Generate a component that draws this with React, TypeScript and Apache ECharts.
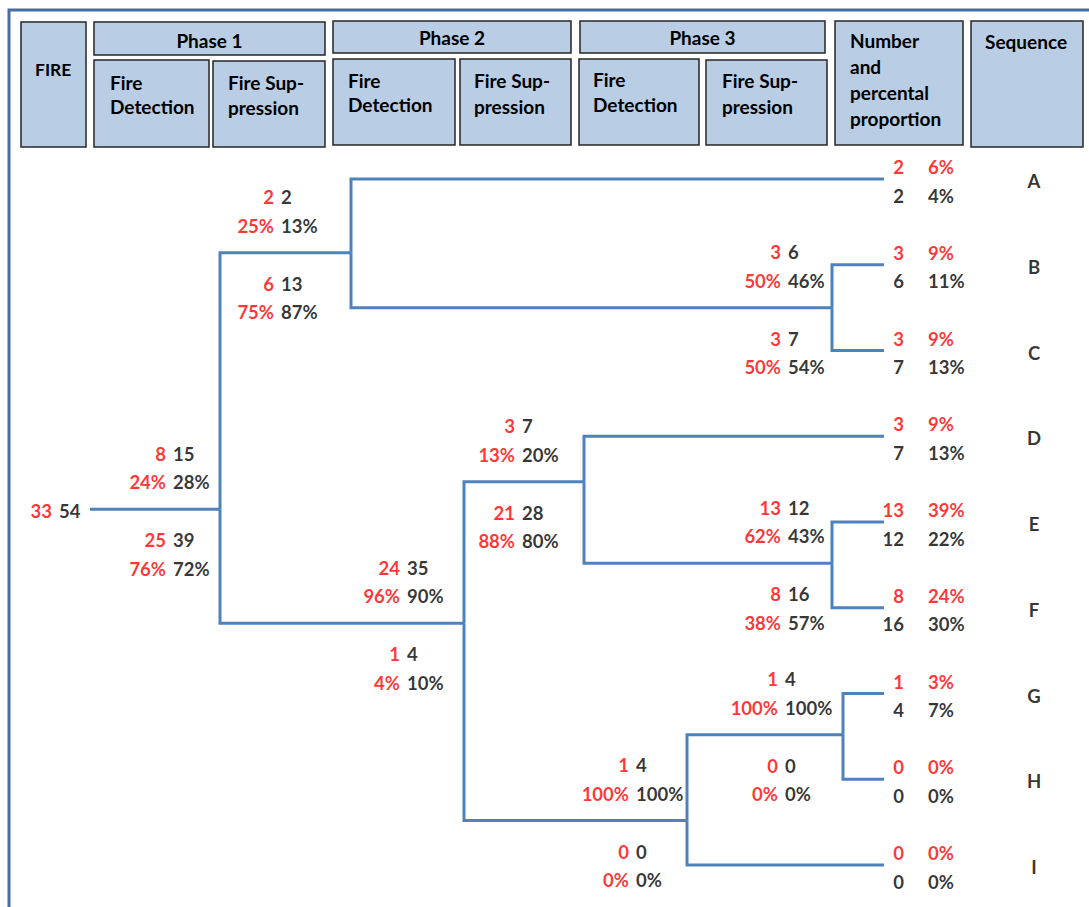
import React, { useEffect, useRef } from "react";
import * as echarts from "echarts";

// ---------------- DATA ----------------
const rootRed = 33;
const rootBlack = 54;

// 8 binary splits of the event tree (upper branch / lower branch)
const splitStages = [
  "Phase 1 Fire Detection",
  "Phase 1 Fire Suppression",
  "Phase 2 Fire Detection",
  "Phase 2 Fire Suppression",
  "Phase 3 Fire Detection",
  "Phase 3 Fire Suppression",
  "Phase 3 Fire Suppression",
  "Phase 3 Fire Suppression",
];
const upperRed = [8, 2, 24, 3, 1, 3, 13, 1];
const upperBlack = [15, 2, 35, 7, 4, 6, 12, 4];
const upperRedPct = [24, 25, 96, 13, 100, 50, 62, 100];
const upperBlackPct = [28, 13, 90, 20, 100, 46, 43, 100];
const lowerRed = [25, 6, 1, 21, 0, 3, 8, 0];
const lowerBlack = [39, 13, 4, 28, 0, 7, 16, 0];
const lowerRedPct = [76, 75, 4, 88, 0, 50, 38, 0];
const lowerBlackPct = [72, 87, 10, 80, 0, 54, 57, 0];

// tree topology: "s#" = another split, "o#" = outcome sequence
const upperChild = ["s1", "o0", "s3", "o3", "s7", "o1", "o4", "o6"];
const lowerChild = ["s2", "s5", "s4", "s6", "o8", "o2", "o5", "o7"];

// outcomes
const sequences = ["A", "B", "C", "D", "E", "F", "G", "H", "I"];
const outcomeRed = [2, 3, 3, 3, 13, 8, 1, 0, 0];
const outcomeRedPct = [6, 9, 9, 9, 39, 24, 3, 0, 0];
const outcomeBlack = [2, 6, 7, 7, 12, 16, 4, 0, 0];
const outcomeBlackPct = [4, 11, 13, 13, 22, 30, 7, 0, 0];

// header texts
const phaseLabels = ["Phase 1", "Phase 2", "Phase 3"];
const stageHeaderLines = [["Fire", "Detection"], ["Fire Sup-", "pression"]];
const numberHeaderLines = ["Number", "and", "percental", "proportion"];

// ---------------- LAYOUT ----------------
const W = 1089;
const H = 907;
const ROOT_X = 90;
const OUTCOME_END_X = 884;
const splitX = [220, 351, 464, 584, 687, 832, 832, 843];
const splitRow = [3.85, 0.86, 5.18, 3.53, 7.48, 1.5, 4.48, 6.48];
const labelX = [166, 274, 400, 515, 629, 781, 781, 778];
const ROW_MIN = -2;
const ROW_MAX = 8.4;
const ROW0_PX = 179;
const ROW_PX = 85.75;

const LINE_COLOR = "#4F81BD";
const RED = "#FF0000";
const BLACK = "#000000";
const FONT = "Lato";
const LABEL_SIZE = 18.5;
const HEADER_SIZE = 19;

export default function App() {
  const ref = useRef<HTMLDivElement>(null);

  useEffect(() => {
    if (!ref.current) return;
    const chart = echarts.init(ref.current, undefined, { renderer: "svg" });

    const childPos = (c: string) => {
      const i = parseInt(c.slice(1), 10);
      if (c[0] === "s") return { x: splitX[i], row: splitRow[i] };
      return { x: OUTCOME_END_X, row: i };
    };

    // tree edges
    const edges: any[] = [
      { coords: [[ROOT_X, splitRow[0]], [splitX[0], splitRow[0]]] },
    ];
    splitStages.forEach((_, i) => {
      [upperChild[i], lowerChild[i]].forEach((c) => {
        const p = childPos(c);
        edges.push({
          coords: [
            [splitX[i], splitRow[i]],
            [splitX[i], p.row],
            [p.x, p.row],
          ],
        });
      });
    });

    // labels
    const labels: any[] = [];
    const mk = (x: number, row: number, text: string, color: string, align: string, dy: number) => {
      labels.push({
        value: [x, row],
        name: text,
        label: { color, align, offset: [0, dy] },
      });
    };
    mk(52, splitRow[0], String(rootRed), RED, "right", 2);
    mk(59, splitRow[0], String(rootBlack), BLACK, "left", 2);
    splitStages.forEach((_, i) => {
      mk(labelX[i], splitRow[i], `${upperRed[i]}\n${upperRedPct[i]}%`, RED, "right", -41);
      mk(labelX[i] + 7, splitRow[i], `${upperBlack[i]}\n${upperBlackPct[i]}%`, BLACK, "left", -41);
      mk(labelX[i], splitRow[i], `${lowerRed[i]}\n${lowerRedPct[i]}%`, RED, "right", 45.5);
      mk(labelX[i] + 7, splitRow[i], `${lowerBlack[i]}\n${lowerBlackPct[i]}%`, BLACK, "left", 45.5);
    });
    sequences.forEach((s, r) => {
      mk(904, r, String(outcomeRed[r]), RED, "right", -12);
      mk(928, r, `${outcomeRedPct[r]}%`, RED, "left", -12);
      mk(904, r, String(outcomeBlack[r]), BLACK, "right", 16.5);
      mk(928, r, `${outcomeBlackPct[r]}%`, BLACK, "left", 16.5);
      mk(1034, r, s, BLACK, "center", 2);
    });

    // header graphics
    const boxStyle = { fill: "#B9CDE5", stroke: "#262626", lineWidth: 1.5 };
    const box = (x: number, y: number, w: number, h: number) => ({
      type: "rect",
      shape: { x, y, width: w, height: h },
      style: boxStyle,
      silent: true,
    });
    const txt = (text: string, x: number, y: number, align = "left", size = HEADER_SIZE) => ({
      type: "text",
      x,
      y,
      silent: true,
      style: {
        text,
        fill: "#000",
        font: `bold ${size}px ${FONT}`,
        textAlign: align,
        textVerticalAlign: "middle",
      },
    });

    const phaseBoxes = [
      [94, 22, 231, 33],
      [333, 21, 238, 32],
      [580, 21, 245, 32],
    ];
    const stageBoxes = [
      [94, 60, 115, 87],
      [213, 61, 112, 86],
      [333, 59, 122, 86],
      [460, 59, 111, 86],
      [579, 59, 120, 86],
      [706, 60, 121, 85],
    ];
    const stageTextX = [110, 228, 348, 474, 593, 722];
    const stageTextY = [
      [82, 106.5],
      [82, 107],
      [80, 104.5],
      [80, 106],
      [79, 104],
      [80, 106],
    ];
    const phaseTextY = [40, 37, 37];

    const graphics: any[] = [
      {
        type: "polyline",
        shape: { points: [[9, H + 5], [9, 10], [W + 5, 10]] },
        style: { stroke: "#4A6D9F", lineWidth: 3, fill: null },
        silent: true,
      },
      box(21, 22, 65, 125),
      txt("FIRE", 35, 69, "left", 17.5),
      box(835, 21, 128, 124),
      box(971, 21, 112, 126),
      txt("Sequence", 985, 41),
    ];
    numberHeaderLines.forEach((l, i) => graphics.push(txt(l, 850, 40 + i * 26)));
    phaseBoxes.forEach((b, i) => {
      graphics.push(box(b[0], b[1], b[2], b[3]));
      graphics.push(txt(phaseLabels[i], b[0] + b[2] / 2, phaseTextY[i], "center"));
    });
    stageBoxes.forEach((b, i) => {
      graphics.push(box(b[0], b[1], b[2], b[3]));
      const lines = stageHeaderLines[i % 2];
      lines.forEach((l, j) => graphics.push(txt(l, stageTextX[i], stageTextY[i][j])));
    });

    const gridTop = ROW0_PX + ROW_MIN * ROW_PX;
    const gridBottom = H - (ROW0_PX + ROW_MAX * ROW_PX);

    chart.setOption({
      animation: false,
      backgroundColor: "#ffffff",
      textStyle: { fontFamily: FONT },
      grid: { left: 0, right: 0, top: gridTop, bottom: gridBottom },
      xAxis: { type: "value", min: 0, max: W, show: false },
      yAxis: { type: "value", min: ROW_MIN, max: ROW_MAX, inverse: true, show: false },
      graphic: graphics,
      series: [
        {
          type: "lines",
          coordinateSystem: "cartesian2d",
          polyline: true,
          silent: true,
          lineStyle: { color: LINE_COLOR, width: 3, opacity: 1 },
          data: edges,
        },
        {
          type: "scatter",
          symbolSize: 0,
          silent: true,
          clip: false,
          itemStyle: { color: "transparent" },
          label: {
            show: true,
            position: "inside",
            formatter: (p: any) => p.name,
            fontFamily: FONT,
            fontWeight: "bold",
            fontSize: LABEL_SIZE,
            lineHeight: 28.5,
            verticalAlign: "middle",
          },
          data: labels,
        },
      ],
    });

    return () => chart.dispose();
  }, []);

  return (
    <div
      ref={ref}
      style={{ position: "absolute", left: 0, top: 0, width: W, height: H }}
    />
  );
}
